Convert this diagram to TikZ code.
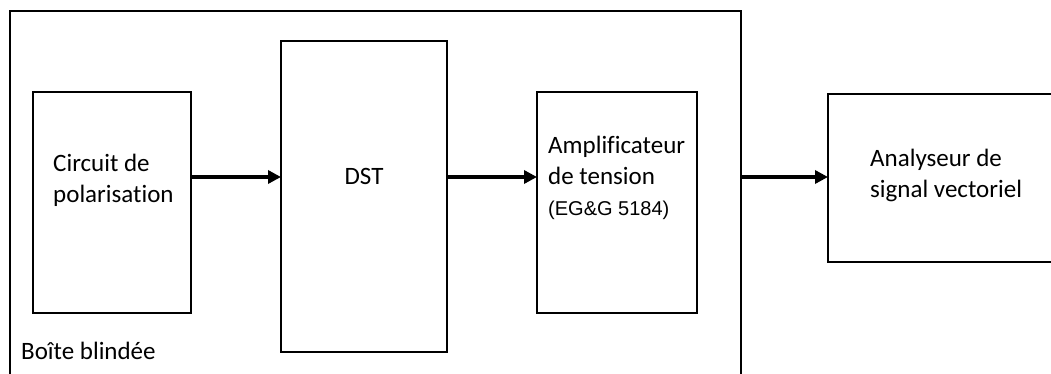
\documentclass[tikz,border=0pt]{standalone}
\usepackage{fontspec}
\setmainfont[Ligatures=CommonOff]{Carlito}
\newfontfamily\arialfont{Liberation Sans}
\usetikzlibrary{arrows.meta}

\begin{document}
\begin{tikzpicture}[x=1pt, y=-1pt,
    box/.style={draw, line width=2.6pt, inner sep=0pt, outer sep=0pt, anchor=north west},
    lbl/.style={inner sep=0pt, anchor=base west, align=left, font=\fontsize{25}{31}\selectfont},
    sig/.style={line width=3.6pt, -{Triangle[length=13pt, width=13pt]}}]
  % Page frame, everything outside is cut off
  \useasboundingbox (0,0) rectangle (1051,374);
  \clip (0,0) rectangle (1051,374);

  % Shielded enclosure (runs past the bottom edge)
  \node[box, minimum width=731pt, minimum height=420pt] (shield) at (10,11) {};

  % Blocks
  \node[box, minimum width=158pt, minimum height=221pt] (bias) at (33,92) {};
  \node[box, minimum width=166pt, minimum height=311pt] (dst) at (281,41) {};
  \node[box, minimum width=160pt, minimum height=221pt] (amp) at (537,92) {};
  \node[box, minimum width=300pt, minimum height=168pt] (vsa) at (828,94) {};

  % Texts (base = baseline of the last line)
  \node[lbl] (biastxt) at (53,202) {Circuit de\\polarisation};
  \node[lbl, anchor=base] (dsttxt) at (364,185) {DST};
  \node[lbl] (amptxt) at (548,215) {Amplificateur\\de tension\\{\arialfont\fontsize{20}{24}\selectfont (EG\&G 5184)}};
  \node[lbl] (vsatxt) at (870,197) {Analyseur de\\signal vectoriel};
  \node[lbl] (shieldtxt) at (21,359) {Boîte blindée};

  % Signal path
  \coordinate (lvl) at (0,177);
  \draw[sig] (bias.east |- lvl) -- (dst.west |- lvl);
  \draw[sig] (dst.east |- lvl) -- (amp.west |- lvl);
  \draw[sig] (shield.east |- lvl) -- (vsa.west |- lvl);
\end{tikzpicture}
\end{document}
